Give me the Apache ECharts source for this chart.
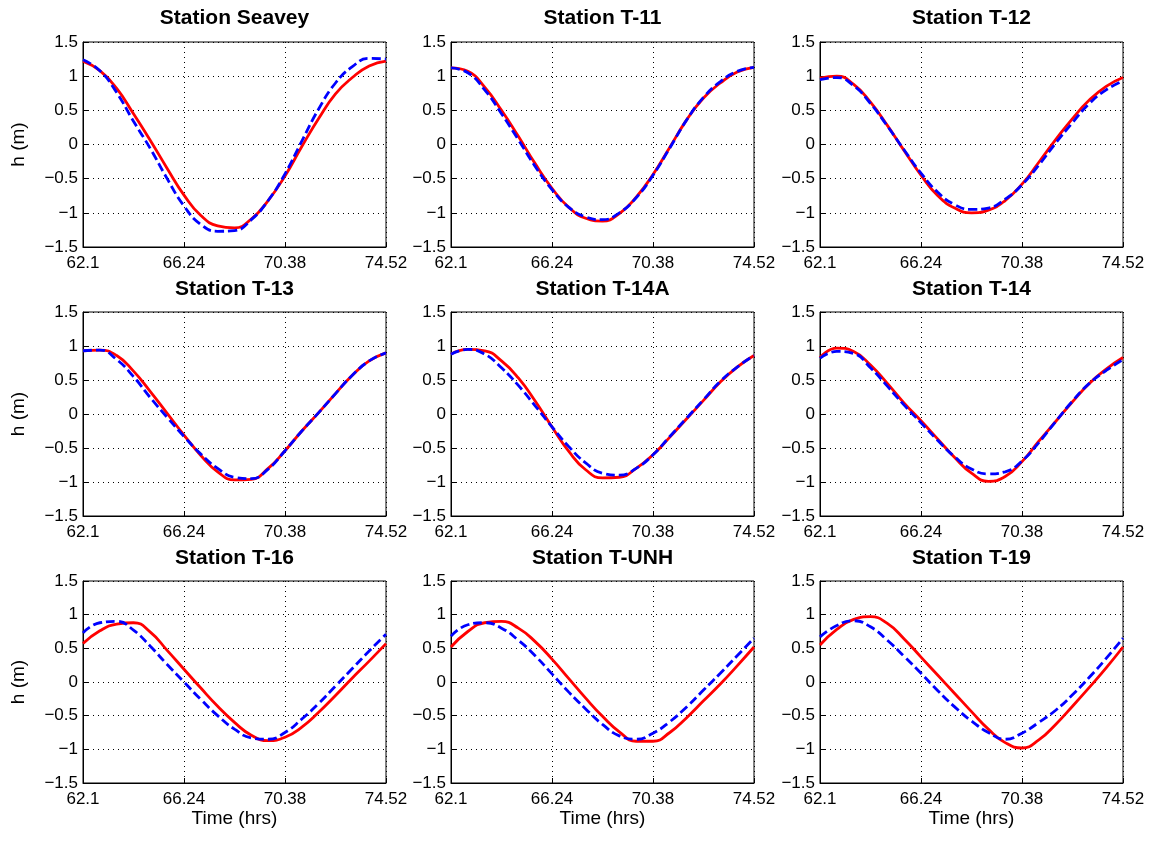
<!DOCTYPE html>
<html>
<head>
<meta charset="utf-8">
<title>Tide stations</title>
<script src="https://cdn.jsdelivr.net/npm/echarts@6/dist/echarts.min.js"></script>
<style>
html, body { margin: 0; padding: 0; background: #fff; }
#chart { width: 1157px; height: 842px; }
</style>
</head>
<body>
<div id="chart"></div>
<script>
// station names, in panel order (row by row)
var stations = ['Station Seavey', 'Station T-11', 'Station T-12',
                'Station T-13', 'Station T-14A', 'Station T-14',
                'Station T-16', 'Station T-UNH', 'Station T-19'];

// sample times (hrs)
var timeHrs = [62.1, 62.79, 63.48, 64.17, 64.86, 65.55, 66.24, 66.93, 67.62, 68.31,
               69, 69.69, 70.38, 71.07, 71.76, 72.45, 73.14, 73.83, 74.52];

var xTicks = [62.1, 66.24, 70.38, 74.52];
var yTicks = [-1.5, -1, -0.5, 0, 0.5, 1, 1.5];

// water level h (m), red solid curve / blue dashed curve
var seaveyRed  = [1.22, 1.08, 0.82, 0.45, 0.06, -0.35, -0.74, -1.04, -1.19, -1.22, -1.09, -0.82, -0.46, -0.03, 0.38, 0.74, 0.98, 1.15, 1.22];
var seaveyBlue = [1.24, 1.08, 0.76, 0.34, -0.06, -0.5, -0.9, -1.17, -1.27, -1.26, -1.1, -0.82, -0.43, 0.05, 0.52, 0.9, 1.14, 1.26, 1.25];

var t11Red  = [1.12, 1.07, 0.84, 0.5, 0.12, -0.28, -0.64, -0.92, -1.08, -1.12, -1.01, -0.77, -0.44, -0.04, 0.36, 0.68, 0.9, 1.06, 1.13];
var t11Blue = [1.12, 1.05, 0.8, 0.45, 0.07, -0.32, -0.66, -0.92, -1.06, -1.1, -1.0, -0.78, -0.45, -0.05, 0.36, 0.69, 0.92, 1.07, 1.13];

var t12Red  = [0.97, 1.0, 0.88, 0.62, 0.28, -0.09, -0.45, -0.75, -0.93, -1.0, -0.96, -0.82, -0.58, -0.26, 0.07, 0.38, 0.65, 0.85, 0.98];
var t12Blue = [0.95, 0.98, 0.86, 0.6, 0.27, -0.08, -0.42, -0.7, -0.88, -0.95, -0.93, -0.8, -0.59, -0.3, 0.02, 0.32, 0.6, 0.8, 0.93];

var t13Red  = [0.93, 0.94, 0.86, 0.63, 0.33, 0.01, -0.31, -0.61, -0.85, -0.97, -0.96, -0.8, -0.54, -0.25, 0.02, 0.3, 0.57, 0.78, 0.9];
var t13Blue = [0.93, 0.94, 0.8, 0.55, 0.24, -0.05, -0.33, -0.59, -0.8, -0.93, -0.95, -0.81, -0.54, -0.25, 0.02, 0.3, 0.57, 0.78, 0.9];

var t14aRed  = [0.88, 0.95, 0.93, 0.78, 0.53, 0.19, -0.19, -0.55, -0.82, -0.94, -0.93, -0.8, -0.6, -0.34, -0.07, 0.2, 0.47, 0.69, 0.86];
var t14aBlue = [0.88, 0.95, 0.88, 0.68, 0.42, 0.12, -0.19, -0.48, -0.72, -0.87, -0.9, -0.8, -0.6, -0.33, -0.06, 0.21, 0.48, 0.69, 0.86];

var t14Red  = [0.83, 0.97, 0.92, 0.72, 0.45, 0.16, -0.1, -0.37, -0.64, -0.87, -0.99, -0.92, -0.7, -0.4, -0.11, 0.18, 0.45, 0.66, 0.83];
var t14Blue = [0.82, 0.92, 0.89, 0.68, 0.41, 0.13, -0.13, -0.39, -0.63, -0.81, -0.88, -0.85, -0.69, -0.42, -0.11, 0.19, 0.45, 0.64, 0.8];

var t16Red  = [0.57, 0.76, 0.86, 0.88, 0.74, 0.47, 0.19, -0.09, -0.36, -0.6, -0.79, -0.87, -0.82, -0.67, -0.45, -0.2, 0.06, 0.31, 0.57];
var t16Blue = [0.73, 0.88, 0.9, 0.77, 0.53, 0.26, 0.0, -0.26, -0.5, -0.7, -0.83, -0.85, -0.75, -0.55, -0.32, -0.06, 0.2, 0.46, 0.71];

var unhRed  = [0.52, 0.75, 0.88, 0.9, 0.8, 0.6, 0.34, 0.05, -0.24, -0.51, -0.74, -0.88, -0.88, -0.75, -0.53, -0.28, -0.03, 0.24, 0.52];
var unhBlue = [0.68, 0.85, 0.88, 0.8, 0.62, 0.39, 0.12, -0.15, -0.4, -0.63, -0.8, -0.85, -0.76, -0.59, -0.37, -0.12, 0.13, 0.39, 0.65];

var t19Red  = [0.55, 0.78, 0.93, 0.97, 0.87, 0.64, 0.37, 0.1, -0.17, -0.44, -0.7, -0.9, -0.98, -0.86, -0.63, -0.36, -0.08, 0.21, 0.52];
var t19Blue = [0.67, 0.84, 0.91, 0.82, 0.62, 0.38, 0.13, -0.13, -0.37, -0.58, -0.75, -0.85, -0.76, -0.6, -0.42, -0.19, 0.07, 0.35, 0.65];

var redSets  = [seaveyRed, t11Red, t12Red, t13Red, t14aRed, t14Red, t16Red, unhRed, t19Red];
var blueSets = [seaveyBlue, t11Blue, t12Blue, t13Blue, t14aBlue, t14Blue, t16Blue, unhBlue, t19Blue];

var myChart = echarts.init(document.getElementById('chart'));

var font = 'Liberation Sans, Arial, Helvetica, sans-serif';
var colLeft = [83, 451, 820];
var rowTop = [42, 312, 581];
var rowHeight = [205, 204, 202];
var plotWidth = 303;
var titleTop = [8, 279, 548];

function pairs(vals) {
    return timeHrs.map(function (t, i) { return [t, vals[i]]; });
}

var grids = [], xAxes = [], yAxes = [], titles = [], series = [];

for (var i = 0; i < stations.length; i++) {
    var row = Math.floor(i / 3), col = i % 3;

    grids.push({
        left: colLeft[col],
        top: rowTop[row],
        width: plotWidth,
        height: rowHeight[row],
        show: true,
        backgroundColor: '#fff',
        borderColor: '#000',
        borderWidth: 1
    });

    titles.push({
        text: stations[i],
        left: colLeft[col] + plotWidth / 2,
        top: titleTop[row],
        textAlign: 'center',
        padding: 0,
        textStyle: { fontFamily: font, fontSize: 21, fontWeight: 'bold', color: '#000' }
    });

    xAxes.push({
        type: 'value',
        gridIndex: i,
        min: xTicks[0],
        max: xTicks[xTicks.length - 1],
        interval: xTicks[1] - xTicks[0],
        name: row === 2 ? 'Time (hrs)' : '',
        nameLocation: 'middle',
        nameGap: 25,
        nameTextStyle: { fontFamily: font, fontSize: 19, color: '#000' },
        axisLine: { show: true, onZero: false, lineStyle: { color: '#000', width: 1 } },
        axisTick: { show: true, inside: true, length: 5, lineStyle: { color: '#000' } },
        axisLabel: {
            color: '#000', fontFamily: font, fontSize: 17, margin: 8,
            showMinLabel: true, showMaxLabel: true,
            formatter: function (v) { return String(+v.toFixed(2)); }
        },
        splitLine: { show: true, lineStyle: { color: '#000', width: 1, type: [1, 4] } }
    });

    yAxes.push({
        type: 'value',
        gridIndex: i,
        min: yTicks[0],
        max: yTicks[yTicks.length - 1],
        interval: 0.5,
        name: col === 0 ? 'h (m)' : '',
        nameLocation: 'middle',
        nameRotate: 90,
        nameGap: 55,
        nameTextStyle: { fontFamily: font, fontSize: 19, color: '#000' },
        axisLine: { show: true, onZero: false, lineStyle: { color: '#000', width: 1 } },
        axisTick: { show: true, inside: true, length: 5, lineStyle: { color: '#000' } },
        axisLabel: {
            color: '#000', fontFamily: font, fontSize: 17, margin: 5,
            showMinLabel: true, showMaxLabel: true,
            formatter: function (v) { return String(+v.toFixed(1)).replace('-', '\u2212'); }
        },
        splitLine: { show: true, lineStyle: { color: '#000', width: 1, type: [1, 4] } }
    });

    series.push({
        type: 'line',
        xAxisIndex: i,
        yAxisIndex: i,
        data: pairs(redSets[i]),
        smooth: 0.5,
        showSymbol: false,
        lineStyle: { color: '#ff0000', width: 2.8, type: 'solid' }
    });
    series.push({
        type: 'line',
        xAxisIndex: i,
        yAxisIndex: i,
        data: pairs(blueSets[i]),
        smooth: 0.5,
        showSymbol: false,
        lineStyle: { color: '#0000ff', width: 2.8, type: [9, 4] }
    });
}

var option = {
    backgroundColor: '#fff',
    animation: false,
    title: titles,
    grid: grids,
    xAxis: xAxes,
    yAxis: yAxes,
    series: series
};

myChart.setOption(option);
</script>
</body>
</html>
